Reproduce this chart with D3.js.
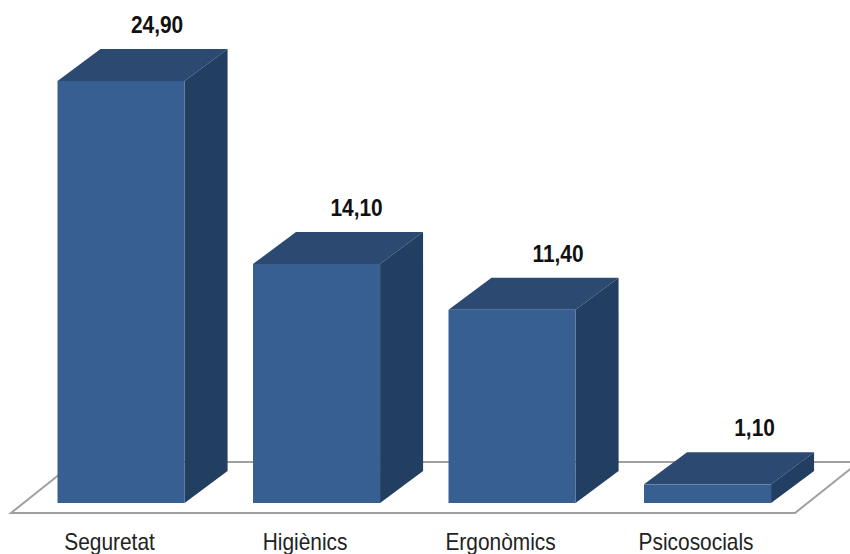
<!DOCTYPE html>
<html>
<head>
<meta charset="utf-8">
<style>
  html, body { margin: 0; background: #fff; }
  svg { display: block; }
  text { font-family: "Liberation Sans", Arial, sans-serif; }
  .tick text { font-size: 24px; fill: #222; }
  .value { font-size: 24px; font-weight: bold; fill: #111; text-anchor: middle; }
</style>
</head>
<body>
<script src="https://cdn.jsdelivr.net/npm/d3@7"></script>
<script>
const categories = ["Seguretat", "Higiènics", "Ergonòmics", "Psicosocials"];
const values = [24.9, 14.1, 11.4, 1.1];
const valueLabels = ["24,90", "14,10", "11,40", "1,10"];

// label offsets from the centre of each bar's front face
const labelNudge = [36, 40, 46, 47];

const width = 850, height = 554;
const baseY = 503;
const depthX = 43, depthY = 32; // how far the bars recede
const squeeze = 0.87; // labels are set narrow

const x = d3.scaleBand()
  .domain(categories)
  .range([23.3, 805.3])
  .paddingInner(0.35)
  .paddingOuter(0.175);

const y = d3.scaleLinear().domain([0, 25]).range([baseY, 79.25]);

const svg = d3.select("body").append("svg")
  .attr("width", width)
  .attr("height", height);

// floor plane
const floor = d3.line();
svg.append("path")
  .attr("d", floor([[11, 513], [795, 513], [859, 462], [75, 462]]) + "Z")
  .attr("fill", "#fff")
  .attr("stroke", "#a0a0a0")
  .attr("stroke-width", 2);

const bars = svg.selectAll("g.bar")
  .data(categories)
  .enter()
  .append("g")
  .attr("class", "bar");

const valueOf = (c) => values[categories.indexOf(c)];

// top face
bars.append("path")
  .attr("fill", "#2b4971")
  .attr("d", (c) => {
    const x0 = x(c), x1 = x0 + x.bandwidth(), t = y(valueOf(c));
    return floor([[x0, t], [x1, t], [x1 + depthX, t - depthY], [x0 + depthX, t - depthY]]) + "Z";
  });

// side face
bars.append("path")
  .attr("fill", "#223f61")
  .attr("d", (c) => {
    const x1 = x(c) + x.bandwidth(), t = y(valueOf(c));
    return floor([[x1, t], [x1 + depthX, t - depthY], [x1 + depthX, baseY - depthY], [x1, baseY]]) + "Z";
  });

// front face
bars.append("rect")
  .attr("fill", "#375f91")
  .attr("x", (c) => x(c))
  .attr("y", (c) => y(valueOf(c)))
  .attr("width", x.bandwidth())
  .attr("height", (c) => baseY - y(valueOf(c)));

const narrow = (sel) => sel.each(function () {
  d3.select(this)
    .attr("textLength", this.getComputedTextLength() * squeeze)
    .attr("lengthAdjust", "spacingAndGlyphs");
});

svg.selectAll("text.value")
  .data(categories)
  .enter()
  .append("text")
  .attr("class", "value")
  .attr("x", (c, i) => x(c) + x.bandwidth() / 2 + labelNudge[i])
  .attr("y", (c) => y(valueOf(c)) - depthY - 16)
  .text((c, i) => valueLabels[i])
  .call(narrow);

const axis = d3.axisBottom(x).tickSize(0).tickPadding(0);
svg.append("g")
  .attr("transform", "translate(-11.5,533)")
  .call(axis)
  .call((g) => g.select(".domain").remove())
  .call((g) => g.selectAll(".tick text")
    .attr("font-family", null)
    .attr("font-size", null)
    .call(narrow));
</script>
</body>
</html>
